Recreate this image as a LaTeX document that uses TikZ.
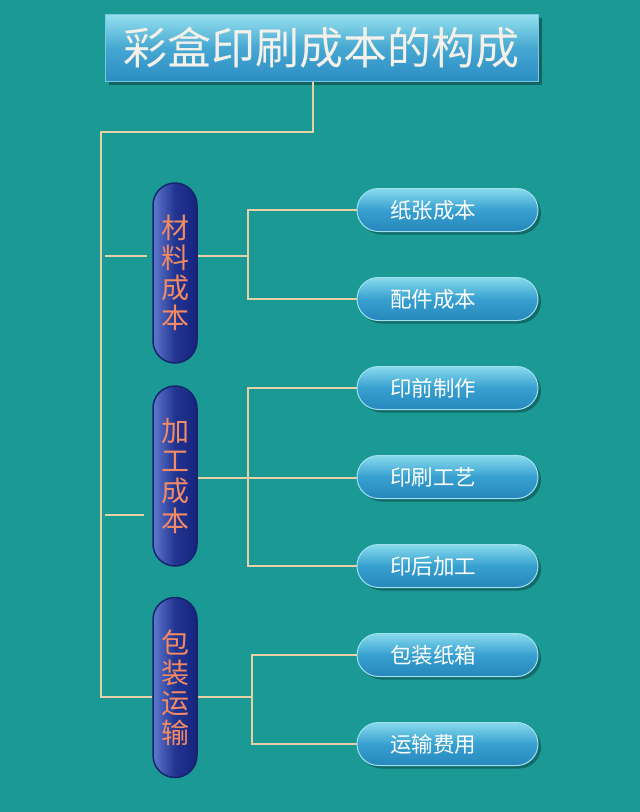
\documentclass[tikz,border=0pt]{standalone}
\usepackage{fontspec}
\newfontfamily\cjk{Noto Sans CJK SC}
\usetikzlibrary{shadows}
\definecolor{bg}{HTML}{1B9A95}
\definecolor{wire}{HTML}{E6D0A6}
\definecolor{pilltxt}{HTML}{F28A64}
\definecolor{titletxt}{HTML}{F4F1EA}
\begin{document}
\begin{tikzpicture}[x=1pt,y=-1pt,
  wire/.style={draw=wire,line width=2.6pt},
  titlebox/.style={minimum width=433pt,minimum height=67pt,inner sep=0pt,
    top color={rgb,255:red,150;green,225;blue,238},bottom color={rgb,255:red,44;green,141;blue,196},
    middle color={rgb,255:red,70;green,168;blue,210},
    draw={rgb,255:red,120;green,200;blue,225},line width=1pt,
    drop shadow={shadow xshift=4pt,shadow yshift=-4pt,fill=black,opacity=0.35},
    font=\cjk\fontsize{44}{48}\selectfont,text=titletxt},
  pill/.style={minimum width=44pt,minimum height=180pt,inner sep=0pt,rounded corners=22pt,
    left color={rgb,255:red,95;green,120;blue,205},right color={rgb,255:red,22;green,36;blue,125},
    middle color={rgb,255:red,34;green,52;blue,145},
    draw={rgb,255:red,22;green,36;blue,110},line width=1.5pt,
    align=center,font=\cjk\fontsize{28}{30}\selectfont,text=pilltxt},
  leaf/.style={minimum width=181pt,minimum height=43pt,inner xsep=0pt,inner ysep=0pt,rounded corners=21.5pt,
    text width=181pt,align=left,
    top color={rgb,255:red,135;green,218;blue,236},bottom color={rgb,255:red,38;green,135;blue,188},
    middle color={rgb,255:red,55;green,160;blue,208},
    draw={rgb,255:red,160;green,225;blue,240},line width=1pt,
    drop shadow={shadow xshift=3pt,shadow yshift=-3pt,fill=black,opacity=0.3},
    font=\cjk\fontsize{21.5}{23}\selectfont,text=white}]
\fill[bg] (0,0) rectangle (640,812);
\useasboundingbox (0,0) rectangle (640,812);

\node[titlebox] (title) at (321.5,47.5) {彩盒印刷成本的构成};

\node[pill] (p1) at (175,273) {材\\料\\成\\本};
\node[pill] (p2) at (175,476) {加\\工\\成\\本};
\node[pill] (p3) at (175,687.5) {包\\装\\运\\输};

\node[leaf] (r1) at (447.5,210) {\hspace*{33pt}纸张成本};
\node[leaf] (r2) at (447.5,299) {\hspace*{33pt}配件成本};
\node[leaf] (r3) at (447.5,388) {\hspace*{33pt}印前制作};
\node[leaf] (r4) at (447.5,477) {\hspace*{33pt}印刷工艺};
\node[leaf] (r5) at (447.5,566) {\hspace*{33pt}印后加工};
\node[leaf] (r6) at (447.5,655) {\hspace*{33pt}包装纸箱};
\node[leaf] (r7) at (447.5,744) {\hspace*{33pt}运输费用};

\coordinate (tap) at (313,132);
\coordinate (trunk) at (101,132);
\coordinate (k1) at (105,256);
\coordinate (k2) at (105,515);
\coordinate (b1) at (248,256);
\coordinate (b2) at (248,478);
\coordinate (b3) at (252,697);

\draw[wire] (title.south -| tap) -- (tap) -- (trunk) -- (trunk |- b3) -- (b3 -| p3.west);
\draw[wire,shorten >=5pt] (k1) -- (k1 -| p1.west);
\draw[wire,shorten >=8pt] (k2) -- (k2 -| p2.west);
\draw[wire] (b1 -| p1.east) -- (b1);
\draw[wire] (r1.west) -| (b1) |- (r2.west);
\draw[wire] (b2 -| p2.east) -- (b2 -| r4.west);
\draw[wire] (r3.west) -| (b2) |- (r5.west);
\draw[wire] (b3 -| p3.east) -- (b3);
\draw[wire] (r6.west) -| (b3) |- (r7.west);
\end{tikzpicture}
\end{document}
